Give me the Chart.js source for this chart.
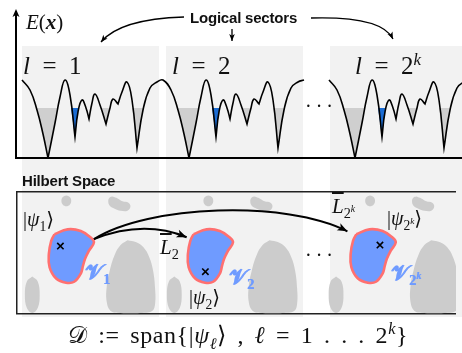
<!DOCTYPE html>
<html>
<head>
<meta charset="utf-8">
<script src="https://cdn.jsdelivr.net/npm/chart.js"></script>
<style>
  body { margin: 0; background: #fff; }
  #fig { position: relative; width: 462px; height: 353px; overflow: hidden; }
  .col { position: absolute; top: 46px; height: 271px; background: #f2f2f2; }
  canvas { position: absolute; left: 0; }
  .lbl { position: absolute; white-space: nowrap; line-height: 1; color: #111;
         font-family: "Liberation Serif", "DejaVu Serif", serif; }
  .sans { font-family: "Liberation Sans", Arial, sans-serif; font-weight: bold; letter-spacing: -0.2px; }
  .blue { color: #6f9bff; font-weight: bold; text-shadow: 0.6px 0 0 #6f9bff; }
  .lbl sub, .lbl sup { font-size: 68%; line-height: 0; }
  .bar { text-decoration: overline; }
</style>
</head>
<body>
<div id="fig">
  <div class="col" style="left:22px;width:137px"></div>
  <div class="col" style="left:166px;width:137px"></div>
  <div class="col" style="left:330px;width:132px"></div>

  <canvas id="energy" width="462" height="175" style="top:0"></canvas>
  <canvas id="hilbert" width="462" height="135" style="top:185px"></canvas>

  <span class="lbl" style="left:26px;top:12px;font-size:21px"><i>E</i>(<b><i>x</i></b>)</span>
  <span class="lbl sans" style="left:190px;top:10px;font-size:15px">Logical sectors</span>
  <span class="lbl" style="left:23px;top:53px;font-size:25px"><i>l</i>&nbsp;&nbsp;=&nbsp;&nbsp;1</span>
  <span class="lbl" style="left:172px;top:53px;font-size:25px"><i>l</i>&nbsp;&nbsp;=&nbsp;&nbsp;2</span>
  <span class="lbl" style="left:355px;top:53px;font-size:25px"><i>l</i>&nbsp;&nbsp;=&nbsp;&nbsp;2<sup><i>k</i></sup></span>
  <span class="lbl" style="left:305px;top:96px;font-size:20px">&middot;&thinsp;&middot;&thinsp;&middot;</span>

  <span class="lbl sans" style="left:22px;top:173px;font-size:15px">Hilbert Space</span>
  <span class="lbl" style="left:23px;top:209px;font-size:20px">|<i>ψ</i><sub>1</sub>⟩</span>
  <span class="lbl blue" style="left:85px;top:262px;font-size:21px">𝒱<sub>1</sub></span>
  <span class="lbl" style="left:160px;top:237px;font-size:21px"><i class="bar">L</i><sub>2</sub></span>
  <span class="lbl" style="left:189px;top:287px;font-size:20px">|<i>ψ</i><sub>2</sub>⟩</span>
  <span class="lbl blue" style="left:229px;top:267px;font-size:21px">𝒱<sub>2</sub></span>
  <span class="lbl" style="left:305px;top:245px;font-size:20px">&middot;&thinsp;&middot;&thinsp;&middot;</span>
  <span class="lbl" style="left:332px;top:196px;font-size:21px"><i class="bar">L</i><sub>2<sup><i>k</i></sup></sub></span>
  <span class="lbl" style="left:387px;top:208px;font-size:20px">|<i>ψ</i><sub>2<sup><i>k</i></sup></sub>⟩</span>
  <span class="lbl blue" style="left:391px;top:263px;font-size:21px">𝒱<sub>2<sup><i>k</i></sup></sub></span>

  <span class="lbl" style="left:68px;top:323px;font-size:24px;letter-spacing:0.6px;word-spacing:4px">𝒟 := span{|<i>ψ</i><sub><i>ℓ</i></sub>⟩ , <i>ℓ</i> = 1 . . . 2<sup><i>k</i></sup>}</span>
</div>

<script>
// energy landscape of one logical sector: [configuration, energy], cusp minima listed twice
const sectorShape = [
  [6,78],[14,68],[21,48],[27,24],[32,0],[32,0],[39,35],[44,61],[49,78],[54,63],
  [59,21],[59,21],[62,46],[66,58],[70,50],[73,39],[73,39],[76,55],[79,64],[84,53],
  [90,34],[90,34],[94,50],[97,59],[102,54],[102,54],[106,66],[111,76],[116,58],
  [121,10],[121,10],[127,48],[134,70],[141,76]
];
const sectorOffsets = [0, 141, 307];
const closingPeak = [147, 78];
const waterLevel = 50;
const grayWells = [
  [[21,50],[27,24],[32,0],[39,35],[41,50]],
  [[85,50],[90,34],[94,50]],
  [[116,50],[121,10],[127,48],[128,50]]
];
const blueWell = [[55,50],[59,21],[62,46],[63,50]];

// Hilbert space regions of one sector: [u, v]
const grayDot = [[50,120.5],[53.5,119],[55,115],[53.5,111],[50,109.5],[46.5,111],[45,115],[46.5,119],[50,120.5]];
const grayBean = [[97,119.5],[102,117.5],[107,114.5],[113,113],[115,109],[112,105],[105,105],[99,107],[94,110],[92.5,115],[94,118.5],[97,119.5]];
const grayHill = [[112,75],[121,73],[128,68],[134,58],[138,44],[140,26],[140,10],[137,3],[125,1],[105,1],[95,3],[91,12],[91,28],[94,44],[99,60],[105,70],[112,75]];
const grayOval = [[15.5,38],[21,33],[23,19.5],[21,6],[15.5,1],[10,6],[8,19.5],[10,33],[15.5,38]];
const codeRegion = [[38,81],[51.3,86],[64.7,84.3],[74.7,77.7],[78,72.7],[73,64.3],[69,56],[67,49.3],[64.7,41],[58,32.7],[49.7,31.7],[39.7,36],[33,47.7],[32.3,61],[34.7,74.3],[38,81]];
const grayOffsets = [0, 144, 308];
const regionOffsets = [0, 141, 306];
const states = [[44,69],[191,43],[368,70]];

// arrows: start, control(s), end
const sectorArrows = [
  [[168,141],[104,139],[85,116]],
  [[216,129],[216,117]],
  [[295,140],[366,142],[377,119]]
];
const logicalArrows = [
  [[78,76],[128,96],[172,78]],
  [[78,76],[133,111],[273,116],[335,84]]
];

const shift = (pts, off) => pts.map(p => ({x: p[0] + off, y: p[1]}));

function arrowHead(ctx, tx, ty, fx, fy, len, wid) {
  const a = Math.atan2(ty - fy, tx - fx);
  const c = Math.cos(a), s = Math.sin(a);
  ctx.beginPath();
  ctx.moveTo(tx, ty);
  ctx.lineTo(tx - len*c + wid/2*s, ty - len*s - wid/2*c);
  ctx.lineTo(tx - len*0.75*c, ty - len*0.75*s);
  ctx.lineTo(tx - len*c - wid/2*s, ty - len*s + wid/2*c);
  ctx.closePath();
  ctx.fill();
}

const curvedArrows = {
  id: 'curvedArrows',
  afterDatasetsDraw(chart, args, opts) {
    const {ctx} = chart;
    const x = chart.scales.x, y = chart.scales.y;
    ctx.save();
    ctx.strokeStyle = '#000';
    ctx.fillStyle = '#000';
    ctx.lineWidth = opts.width;
    opts.arrows.forEach(pts => {
      const p = pts.map(q => [x.getPixelForValue(q[0]), y.getPixelForValue(q[1])]);
      ctx.beginPath();
      ctx.moveTo(p[0][0], p[0][1]);
      if (p.length === 2) ctx.lineTo(p[1][0], p[1][1]);
      else if (p.length === 3) ctx.quadraticCurveTo(p[1][0], p[1][1], p[2][0], p[2][1]);
      else ctx.bezierCurveTo(p[1][0], p[1][1], p[2][0], p[2][1], p[3][0], p[3][1]);
      ctx.stroke();
      const end = p[p.length - 1], prev = p[p.length - 2];
      arrowHead(ctx, end[0], end[1], prev[0], prev[1], opts.head, opts.head * 0.8);
    });
    if (opts.axisArrow) {
      const {left, top} = chart.chartArea;
      arrowHead(ctx, left, top - 3, left, top + 10, 8, 7);
    }
    ctx.restore();
  }
};

const hidden = {grid: {display: false, drawTicks: false}, ticks: {display: false}};

// energy curve: sectors 1 and 2 are joined, sector 3 stands alone
const curveA = shift(sectorShape, sectorOffsets[0])
  .concat(shift(sectorShape, sectorOffsets[1]), shift([closingPeak], sectorOffsets[1]));
const curveB = shift(sectorShape, sectorOffsets[2]).concat(shift([closingPeak], sectorOffsets[2]));

const energySets = [];
[curveA, curveB].forEach(c => energySets.push({
  data: c, borderColor: '#000', borderWidth: 1.6, tension: 0.45, fill: false, order: 0
}));
sectorOffsets.forEach(off => {
  grayWells.forEach(w => energySets.push({
    data: shift(w, off), borderWidth: 0, tension: 0, order: 2,
    backgroundColor: '#cfcfcf',
    fill: {target: {value: waterLevel}, above: '#cfcfcf', below: '#cfcfcf'}
  }));
  energySets.push({
    data: shift(blueWell, off), borderWidth: 0, tension: 0, order: 1,
    backgroundColor: '#1b6cd3',
    fill: {target: {value: waterLevel}, above: '#1b6cd3', below: '#1b6cd3'}
  });
});

new Chart(document.getElementById('energy'), {
  type: 'line',
  data: {datasets: energySets},
  options: {
    responsive: false,
    animation: false,
    layout: {padding: {left: 16, top: 12, right: 0, bottom: 17}},
    elements: {point: {radius: 0}},
    plugins: {
      legend: {display: false},
      tooltip: {enabled: false},
      curvedArrows: {arrows: sectorArrows, width: 1.3, head: 7, axisArrow: true}
    },
    scales: {
      x: {type: 'linear', min: 0, max: 446, ...hidden, border: {display: true, color: '#000', width: 2}},
      y: {min: 0, max: 146, ...hidden, border: {display: true, color: '#000', width: 2}}
    }
  },
  plugins: [curvedArrows]
});

// Hilbert space panel
const hilbertSets = [{
  data: states.map(p => ({x: p[0], y: p[1]})), showLine: false, order: 0,
  pointStyle: 'crossRot', pointRadius: 4.5, pointBorderWidth: 1.6,
  borderColor: '#000', backgroundColor: '#000'
}];
regionOffsets.forEach(off => hilbertSets.push({
  data: shift(codeRegion, off), tension: 0.4, fill: 'shape', order: 1,
  backgroundColor: '#6f9bff', borderColor: '#ff7070', borderWidth: 2.6
}));
grayOffsets.forEach(off => {
  [grayDot, grayBean, grayHill, grayOval].forEach(b => hilbertSets.push({
    data: shift(b, off), tension: 0.4, fill: 'shape', order: 2,
    backgroundColor: '#cccccc', borderWidth: 0
  }));
});

const boxBorder = {display: true, color: '#222', width: 1.5};
new Chart(document.getElementById('hilbert'), {
  type: 'line',
  data: {datasets: hilbertSets},
  options: {
    responsive: false,
    animation: false,
    layout: {padding: {left: 17, top: 7, right: 0, bottom: 4}},
    elements: {point: {radius: 0}},
    plugins: {
      legend: {display: false},
      tooltip: {enabled: false},
      curvedArrows: {arrows: logicalArrows, width: 2, head: 10}
    },
    scales: {
      x: {type: 'linear', min: 0, max: 445, ...hidden, border: boxBorder},
      xTop: {type: 'linear', position: 'top', min: 0, max: 445, ...hidden, border: boxBorder},
      y: {min: 0, max: 124, ...hidden, border: boxBorder}
    }
  },
  plugins: [curvedArrows]
});
</script>
</body>
</html>
